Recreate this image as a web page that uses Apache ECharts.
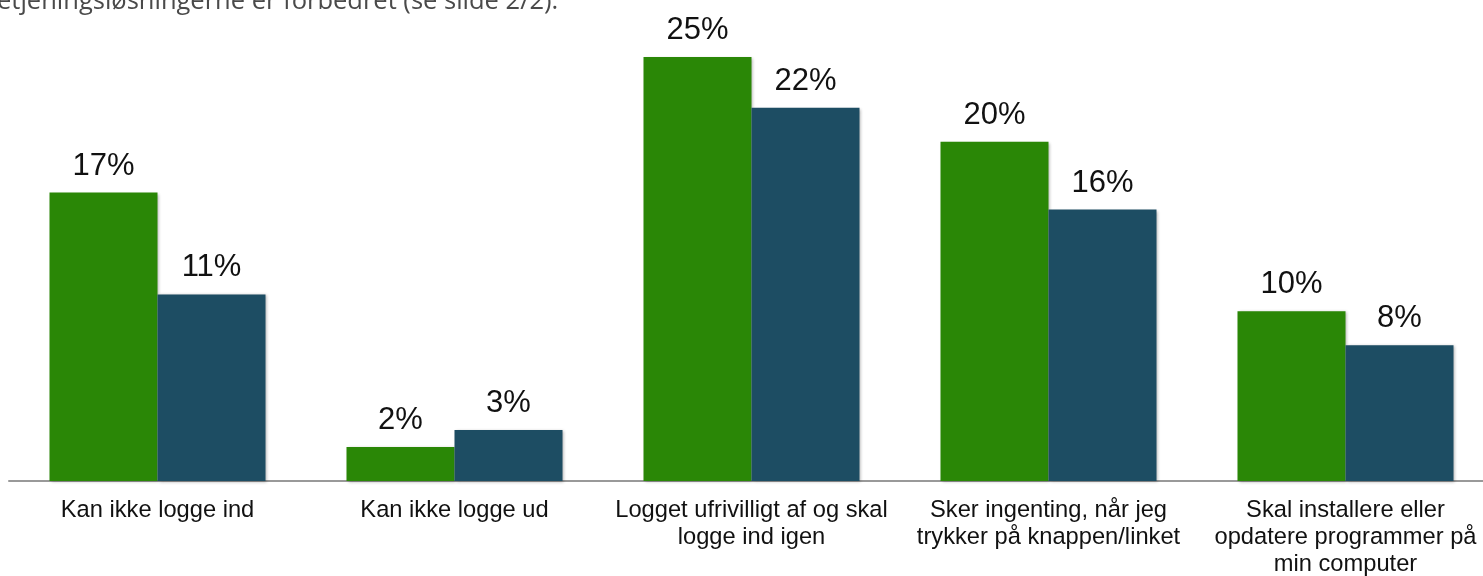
<!DOCTYPE html>
<html>
<head>
<meta charset="utf-8">
<script src="https://cdn.jsdelivr.net/npm/echarts@6/dist/echarts.min.js"></script>
<style>
  html, body { margin: 0; padding: 0; background: #fff; }
  #chart { width: 1483px; height: 576px; }
</style>
</head>
<body>
<div id="chart"></div>
<script>
// Problem categories (line breaks as shown under the axis)
const categories = [
  'Kan ikke logge ind',
  'Kan ikke logge ud',
  'Logget ufrivilligt af og skal\nlogge ind igen',
  'Sker ingenting, når jeg\ntrykker på knappen/linket',
  'Skal installere eller\nopdatere programmer på\nmin computer'
];
// Share of respondents (%), two measurements
const seriesGreen = [17, 2, 25, 20, 10];
const seriesBlue = [11, 3, 22, 16, 8];
const headerText = 'etjeningsløsningerne er forbedret (se slide 2/2).';

const chart = echarts.init(document.getElementById('chart'));

const labelStyle = {
  show: true,
  position: 'top',
  distance: 11,
  formatter: p => p.value + '%',
  fontFamily: 'Liberation Sans, Arial, sans-serif',
  fontSize: 31,
  color: '#111'
};

const shadow = {
  shadowBlur: 3,
  shadowOffsetX: 1,
  shadowOffsetY: 1,
  shadowColor: 'rgba(0,0,0,0.3)'
};

chart.setOption({
  animation: false,
  backgroundColor: '#fff',
  grid: {
    left: 9, width: 1485, top: 6, bottom: 95,
    containLabel: false,
    outerBoundsMode: 'none'
  },
  graphic: [{
    type: 'text',
    left: -3,
    top: -11,
    style: {
      text: headerText,
      font: '25.5px "Open Sans", sans-serif',
      fill: '#4a4a4a'
    }
  }],
  xAxis: {
    type: 'category',
    data: categories,
    axisLine: { show: true, lineStyle: { color: '#999', width: 2 } },
    axisTick: { show: false },
    axisLabel: {
      interval: 0,
      margin: 16,
      fontFamily: 'Liberation Sans, Arial, sans-serif',
      fontSize: 23.7,
      lineHeight: 27,
      color: '#111'
    }
  },
  yAxis: {
    type: 'value',
    min: 0,
    max: 28,
    show: false,
    splitLine: { show: false }
  },
  series: [
    {
      type: 'bar',
      data: seriesGreen,
      barWidth: 108,
      barGap: '0%',
      itemStyle: Object.assign({ color: '#2a8706' }, shadow),
      label: labelStyle
    },
    {
      type: 'bar',
      data: seriesBlue,
      barWidth: 108,
      barGap: '0%',
      itemStyle: Object.assign({ color: '#1d4d63' }, shadow),
      label: labelStyle
    }
  ]
});
</script>
</body>
</html>
